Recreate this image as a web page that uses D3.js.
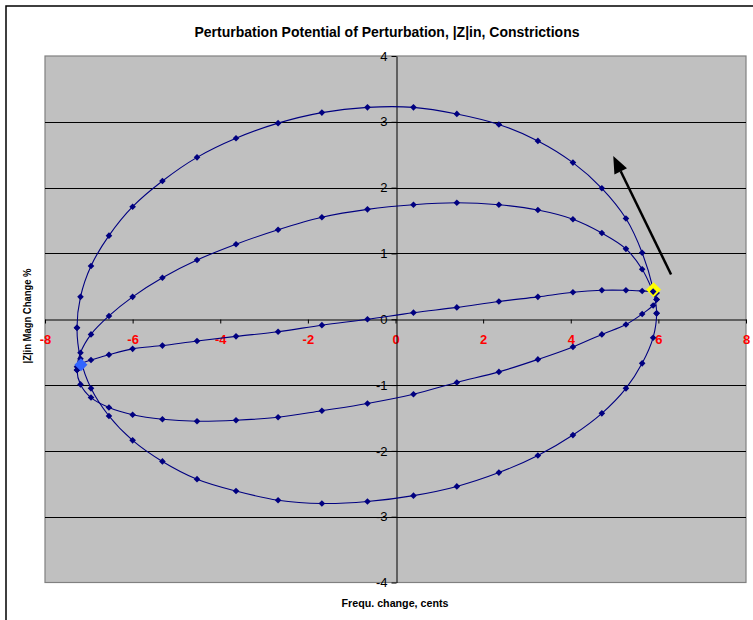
<!DOCTYPE html>
<html>
<head>
<meta charset="utf-8">
<script src="https://cdn.jsdelivr.net/npm/d3@7"></script>
<style>
  html, body { margin: 0; padding: 0; background: #fff; }
  svg { display: block; }
  text { font-family: Arial, "Liberation Sans", sans-serif; }
</style>
</head>
<body>
<svg id="chart" width="753" height="620"></svg>
<script>
// ---------------- data ----------------
const xValues     = [-7.27, -7.19, -6.95, -6.54, -6.00, -5.32, -4.53, -3.64, -2.68, -1.68, -0.64, 0.41, 1.40, 2.36, 3.25, 4.05, 4.71, 5.26, 5.63, 5.88, 5.96];
const outerUpper  = [-0.13, 0.34, 0.81, 1.27, 1.71, 2.10, 2.46, 2.75, 2.98, 3.14, 3.22, 3.22, 3.12, 2.96, 2.71, 2.38, 1.99, 1.53, 1.01, 0.46, 0.09];
const outerLower  = [-0.13, -0.60, -1.05, -1.47, -1.84, -2.16, -2.43, -2.61, -2.75, -2.80, -2.77, -2.68, -2.54, -2.33, -2.07, -1.76, -1.43, -1.05, -0.67, -0.28, 0.09];
const middleUpper = [-0.77, -0.51, -0.23, 0.05, 0.34, 0.63, 0.90, 1.14, 1.36, 1.55, 1.67, 1.74, 1.77, 1.74, 1.66, 1.52, 1.31, 1.07, 0.76, 0.42, 0.30];
const middleLower = [-0.77, -0.99, -1.19, -1.34, -1.45, -1.52, -1.55, -1.535, -1.49, -1.39, -1.28, -1.14, -0.96, -0.80, -0.61, -0.42, -0.23, -0.08, 0.08, 0.21, 0.30];
const innerLine   = [-0.72, -0.68, -0.62, -0.54, -0.45, -0.40, -0.33, -0.26, -0.19, -0.09, 0.00, 0.10, 0.18, 0.27, 0.34, 0.41, 0.44, 0.44, 0.43, 0.42, 0.40];
const yellowPoint = [5.89, 0.45];
const bluePoint   = [-7.18, -0.69];
const arrowFrom   = [6.29, 0.68];
const arrowTo     = [4.97, 2.48];
const xTicks = [-8, -6, -4, -2, 0, 2, 4, 6, 8];
const yTicks = [-4, -3, -2, -1, 0, 1, 2, 3, 4];
const titleText  = "Perturbation Potential of Perturbation, |Z|in, Constrictions";
const xAxisTitle = "Frequ. change, cents";
const yAxisTitle = "|Z|in Magn Change %";

// ---------------- layout ----------------
const svg = d3.select("#chart");
const plot = { left: 45, right: 746, top: 56, bottom: 582.5 };
const x = d3.scaleLinear().domain([-8, 8]).range([plot.left, plot.right]);
const y = d3.scaleLinear().domain([-4, 4]).range([plot.bottom, plot.top]);

// chart area frame
svg.append("rect").attr("x", 6).attr("y", 6).attr("width", 900).attr("height", 800)
  .attr("fill", "#fff").attr("stroke", "#000").attr("stroke-width", 1.5);

// plot area
svg.append("rect")
  .attr("x", plot.left).attr("y", plot.top)
  .attr("width", plot.right - plot.left).attr("height", plot.bottom - plot.top)
  .attr("fill", "#C0C0C0").attr("stroke", "#808080").attr("stroke-width", 1.2);

// horizontal gridlines
svg.append("g").selectAll("line")
  .data(yTicks.filter(v => v !== 0 && Math.abs(v) !== 4))
  .join("line")
  .attr("x1", plot.left).attr("x2", plot.right)
  .attr("y1", d => Math.round(y(d)) + 0.5).attr("y2", d => Math.round(y(d)) + 0.5)
  .attr("stroke", "#000").attr("stroke-width", 1);

// x axis (at y = 0)
const xAxisG = svg.append("g")
  .attr("transform", `translate(0,${Math.round(y(0)) + 0.5})`)
  .call(d3.axisBottom(x).tickValues(xTicks).tickSize(4).tickSizeOuter(0).tickFormat(d3.format("d")));
xAxisG.select(".domain").attr("stroke", "#000");
xAxisG.selectAll(".tick line").attr("stroke", "#000");
xAxisG.selectAll(".tick text")
  .attr("fill", "#FF0000").attr("font-weight", "bold").attr("font-size", "13px")
  .attr("y", 15).attr("dy", "0.71em").attr("font-family", "Arial, 'Liberation Sans', sans-serif")
  .text(d => d < 0 ? "-" + Math.abs(d) : d);

// y axis (at x = 0)
const yAxisG = svg.append("g")
  .attr("transform", `translate(${Math.round(x(0)) + 0.5},0)`)
  .call(d3.axisLeft(y).tickValues(yTicks).tickSize(5).tickSizeOuter(0).tickFormat(d3.format("d")));
yAxisG.select(".domain").attr("stroke", "#000");
yAxisG.selectAll(".tick line").attr("stroke", "#000");
yAxisG.selectAll(".tick text")
  .attr("fill", "#000").attr("font-size", "13px").attr("x", -9)
  .attr("font-family", "Arial, 'Liberation Sans', sans-serif")
  .text(d => d < 0 ? "-" + Math.abs(d) : d);

// ---------------- series ----------------
const pts = arr => arr.map((v, i) => [xValues[i], v]);
const loop = (up, lo) => pts(up).concat(pts(lo).slice(1, -1).reverse());

const closedLine = d3.line().x(d => x(d[0])).y(d => y(d[1])).curve(d3.curveCatmullRomClosed.alpha(0.5));
const openLine = d3.line().x(d => x(d[0])).y(d => y(d[1])).curve(d3.curveCatmullRom.alpha(0.5));

const lineColor = "#000080";
const loops = [loop(outerUpper, outerLower), loop(middleUpper, middleLower)];
const diamond = r => `M0,${-r}L${r},0L0,${r}L${-r},0Z`;

const seriesG = svg.append("g");
loops.forEach(p => {
  seriesG.append("path").attr("d", closedLine(p)).attr("fill", "none")
    .attr("stroke", lineColor).attr("stroke-width", 1.1);
});
seriesG.append("path").attr("d", openLine(pts(innerLine))).attr("fill", "none")
  .attr("stroke", lineColor).attr("stroke-width", 1.1);

const allPoints = [].concat(pts(outerUpper), pts(outerLower), pts(middleUpper), pts(middleLower), pts(innerLine));
seriesG.selectAll("path.mk").data(allPoints).join("path")
  .attr("class", "mk")
  .attr("d", diamond(3.3))
  .attr("transform", d => `translate(${x(d[0])},${y(d[1])})`)
  .attr("fill", lineColor);

// yellow marker
svg.append("path").attr("d", diamond(7.5))
  .attr("transform", `translate(${x(yellowPoint[0])},${y(yellowPoint[1])})`)
  .attr("fill", "#FFFF00");
// dark point lying over the yellow marker in the reference
svg.append("path").attr("d", diamond(3.3))
  .attr("transform", `translate(${x(xValues[19])},${y(middleUpper[19])})`)
  .attr("fill", lineColor);

// blue marker
svg.append("path").attr("d", diamond(6.5))
  .attr("transform", `translate(${x(bluePoint[0])},${y(bluePoint[1])})`)
  .attr("fill", "#3366FF");

// ---------------- arrow annotation ----------------
const ax0 = x(arrowFrom[0]), ay0 = y(arrowFrom[1]);
const ax1 = x(arrowTo[0]),   ay1 = y(arrowTo[1]);
const ang = Math.atan2(ay1 - ay0, ax1 - ax0);
const headLen = 17, headHalf = 7;
const bx = ax1 - headLen * Math.cos(ang), by = ay1 - headLen * Math.sin(ang);
svg.append("line").attr("x1", ax0).attr("y1", ay0).attr("x2", bx).attr("y2", by)
  .attr("stroke", "#000").attr("stroke-width", 2.5);
svg.append("path")
  .attr("d", `M${ax1},${ay1}L${bx + headHalf * Math.sin(ang)},${by - headHalf * Math.cos(ang)}L${bx - headHalf * Math.sin(ang)},${by + headHalf * Math.cos(ang)}Z`)
  .attr("fill", "#000");

// ---------------- titles ----------------
svg.append("text").attr("x", 387).attr("y", 37).attr("text-anchor", "middle")
  .attr("font-size", "14px").attr("font-weight", "bold")
  .attr("textLength", 385).attr("lengthAdjust", "spacingAndGlyphs")
  .text(titleText);

svg.append("text").attr("x", 395).attr("y", 607).attr("text-anchor", "middle")
  .attr("font-size", "10.5px").attr("font-weight", "bold")
  .attr("textLength", 107).attr("lengthAdjust", "spacingAndGlyphs")
  .text(xAxisTitle);

svg.append("text")
  .attr("transform", "translate(31,316) rotate(-90)")
  .attr("text-anchor", "middle")
  .attr("font-size", "10.5px").attr("font-weight", "bold")
  .attr("textLength", 95).attr("lengthAdjust", "spacingAndGlyphs")
  .text(yAxisTitle);
</script>
</body>
</html>
